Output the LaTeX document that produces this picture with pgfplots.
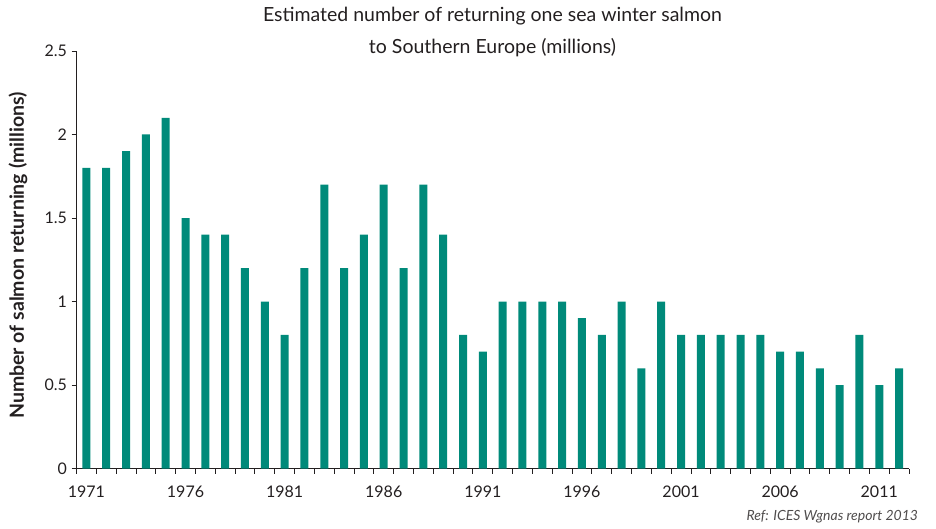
\documentclass[border=0pt]{standalone}
\usepackage{fontspec}
\setmainfont{Lato}
\usepackage{pgfplots}
\pgfplotsset{compat=1.18}
\definecolor{teal1}{RGB}{0,138,122}
\definecolor{txt}{RGB}{35,31,32}
\begin{document}
\begin{tikzpicture}
\path[use as bounding box] (-76.5pt,-59.5pt) rectangle (859.5pt,468.5pt);
\begin{axis}[
  at={(0pt,0pt)}, anchor=origin,
  scale only axis,
  width=832.5pt, height=417.5pt,
  xmin=1970.5, xmax=2012.5,
  ymin=0, ymax=2.5,
  axis x line=bottom, axis y line=left,
  axis line style={-, draw=txt, line width=0.8pt},
  ytick={0,0.5,1,1.5,2,2.5},
  yticklabels={0,0.5,1,1.5,2,2.5},
  xtick={1971,1976,1981,1986,1991,1996,2001,2006,2011},
  xticklabels={1971,1976,1981,1986,1991,1996,2001,2006,2011},
  minor xtick={1970.5,1971.5,...,2012.5},
  tick align=outside,
  major tick length=5pt, minor tick length=5pt,
  x tick style={draw=none},
  minor x tick style={draw=txt, line width=0.8pt},
  y tick style={draw=txt, line width=0.8pt},
  tick label style={font=\fontsize{16}{18}\selectfont, text=txt},
  x tick label style={yshift=-9pt},
  y tick label style={xshift=-1pt},
  /pgf/number format/assume math mode=true,
  ylabel={\bfseries Number of salmon returning (millions)},
  ylabel style={font=\fontsize{19.5}{22}\selectfont, text=txt, anchor=center, rotate=0},
  every axis y label/.append style={at={(-58.5pt,213pt)}},
]
\addplot[ybar, bar width=8pt, bar shift=0pt, fill=teal1, draw=none] coordinates {
(1971,1.8) (1972,1.8) (1973,1.9) (1974,2.0) (1975,2.1)
(1976,1.5) (1977,1.4) (1978,1.4) (1979,1.2) (1980,1.0)
(1981,0.8) (1982,1.2) (1983,1.7) (1984,1.2) (1985,1.4)
(1986,1.7) (1987,1.2) (1988,1.7) (1989,1.4) (1990,0.8)
(1991,0.7) (1992,1.0) (1993,1.0) (1994,1.0) (1995,1.0)
(1996,0.9) (1997,0.8) (1998,1.0) (1999,0.6) (2000,1.0)
(2001,0.8) (2002,0.8) (2003,0.8) (2004,0.8) (2005,0.8)
(2006,0.7) (2007,0.7) (2008,0.6) (2009,0.5) (2010,0.8)
(2011,0.5) (2012,0.6)
};
\end{axis}
\node[font=\fontsize{19.5}{22}\selectfont, text=txt, align=center, anchor=center] at (416pt,452pt) {Estimated number of returning one sea winter salmon};
\node[font=\fontsize{19.5}{22}\selectfont, text=txt, align=center, anchor=center] at (416pt,421pt) {to Southern Europe (millions)};
\node[font=\itshape\fontsize{14}{16}\selectfont, text=txt!80, anchor=east] at (845pt,-48pt) {Ref: ICES Wgnas report 2013};
\end{tikzpicture}
\end{document}
